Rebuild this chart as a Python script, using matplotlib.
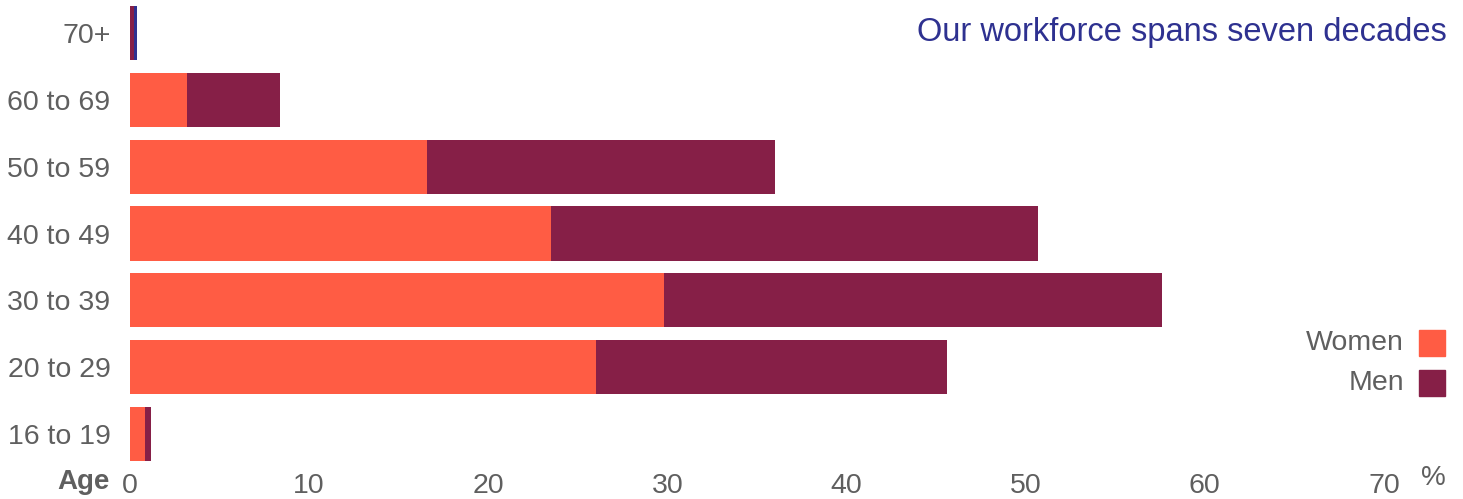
import matplotlib.pyplot as plt
from matplotlib.patches import Rectangle

# data (percent of workforce)
age_groups = ["16 to 19", "20 to 29", "30 to 39", "40 to 49", "50 to 59", "60 to 69", "70+"]
women = [0.84, 26.0, 29.8, 23.5, 16.6, 3.2, 0.0]
men = [0.33, 19.6, 27.8, 27.2, 19.4, 5.2, 0.22]
other = [0.0, 0.0, 0.0, 0.0, 0.0, 0.0, 0.15]
x_ticks = [0, 10, 20, 30, 40, 50, 60, 70]

women_color = "#ff5c44"
men_color = "#861f47"
other_color = "#2e3190"
text_grey = "#5f5f5f"

plt.rcParams["font.family"] = ["Liberation Sans", "DejaVu Sans"]

W, H = 1463, 499
fig = plt.figure(figsize=(W / 100, H / 100), dpi=100)
ax = fig.add_axes([130 / W, 32 / H, (1384 - 130) / W, 467 / H])

pos = range(len(age_groups))
ax.barh(pos, women, height=0.81, color=women_color)
ax.barh(pos, men, left=women, height=0.81, color=men_color)
left2 = [w + m for w, m in zip(women, men)]
ax.barh(pos, other, left=left2, height=0.81, color=other_color)

ax.set_xlim(0, 70)
ax.set_ylim(-0.5, 6.5)
ax.set_yticks(list(pos))
ax.set_yticklabels(age_groups)
ax.set_xticks(x_ticks)
ax.tick_params(length=0, labelsize=20.5, labelcolor=text_grey)
ax.tick_params(axis="y", pad=14)
ax.tick_params(axis="x", pad=4)
for s in ax.spines.values():
    s.set_visible(False)

fig.text(110 / W, 1 - 482 / H, "Age", ha="right", va="center",
         fontsize=20, fontweight="bold", color=text_grey)
fig.text(1433 / W, 1 - 478 / H, "%", ha="center", va="center",
         fontsize=20, color=text_grey)
fig.text(1447 / W, 1 - 33 / H, "Our workforce spans seven decades", ha="right",
         va="center", fontsize=23.5, color=other_color)

# legend drawn by hand, right side
for label, color, yc in [("Women", women_color, 343), ("Men", men_color, 383)]:
    fig.patches.append(Rectangle((1419 / W, 1 - (yc + 13) / H), 26 / W, 26 / H,
                                 transform=fig.transFigure, color=color))
    fig.text(1404 / W, 1 - yc / H, label, ha="right", va="center",
             fontsize=20.5, color=text_grey)

fig.savefig("out.png", dpi=100)
